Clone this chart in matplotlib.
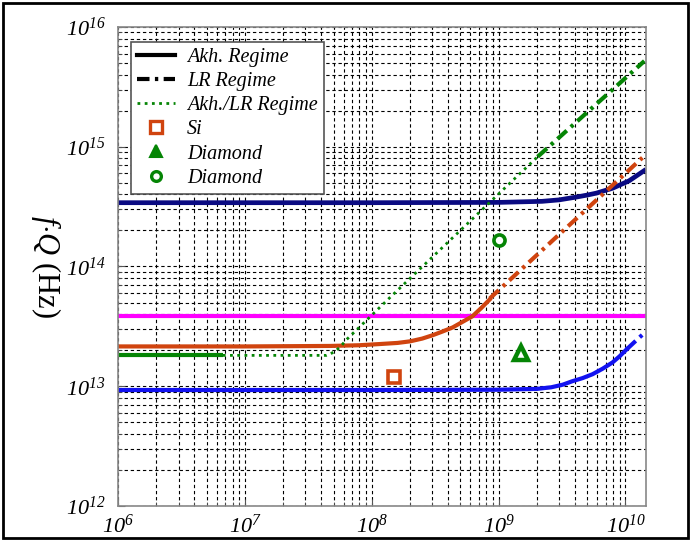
import matplotlib
matplotlib.use('Agg')
import matplotlib.pyplot as plt
from matplotlib.lines import Line2D
from matplotlib.patches import Rectangle
from matplotlib.ticker import FuncFormatter, LogLocator
import numpy as np

plt.rcParams['font.family'] = 'Liberation Serif'
plt.rcParams['mathtext.fontset'] = 'custom'
plt.rcParams['mathtext.rm'] = 'Liberation Serif:italic'
plt.rcParams['mathtext.it'] = 'Liberation Serif:italic'

# values (f in Hz, f*Q in Hz)
navy_f = [1e6, 1e7, 1e8, 1e9, 2.2e9, 3.0e9, 4.1e9, 5.0e9, 5.9e9, 7.9e9, 1.07e10, 1.4e10]
navy_fq = [3.41e14, 3.41e14, 3.41e14, 3.43e14, 3.5e14, 3.6e14, 3.8e14, 3.95e14, 4.1e14,
           4.5e14, 5.2e14, 6.3e14]

red_f = [1e6, 1e7, 4.7e7, 8e7, 1.15e8, 1.6e8, 2.0e8, 2.5e8, 3.0e8, 3.6e8, 4.35e8, 5.2e8,
         6.2e8, 7.3e8, 8.5e8]
red_fq = [2.15e13, 2.15e13, 2.17e13, 2.2e13, 2.25e13, 2.3e13, 2.37e13, 2.5e13, 2.66e13,
          2.86e13, 3.1e13, 3.45e13, 3.83e13, 4.5e13, 5.3e13]
red_lr_f = [8.5e8, 1.36e10]
red_lr_fq = [5.4e13, 8.1e14]

green_f = [1e6, 6.7e6]
green_fq = [1.81e13, 1.81e13]
green_mix_f = [6.7e6, 2e7, 4.4e7, 5.0e7, 5.6e7, 6.35e7, 1.39e8, 2.03e9]
green_mix_fq = [1.81e13, 1.81e13, 1.81e13, 1.92e13, 2.11e13, 2.46e13, 5.5e13, 8.25e14]
green_lr_f = [2.03e9, 1.41e10]
green_lr_fq = [8.25e14, 5.2e15]

blue_f = [1e6, 1e7, 1e8, 1e9, 2.0e9, 2.6e9, 3.2e9, 3.8e9, 4.6e9, 5.5e9, 6.6e9, 7.9e9,
          9.0e9, 1.02e10]
blue_fq = [9.3e12, 9.3e12, 9.3e12, 9.35e12, 9.5e12, 9.8e12, 1.03e13, 1.1e13, 1.17e13,
           1.26e13, 1.4e13, 1.58e13, 1.78e13, 2.03e13]
blue_lr_f = [1.02e10, 1.29e10, 1.43e10]
blue_lr_fq = [2.03e13, 2.56e13, 2.82e13]

magenta_f = [1e6, 1.45e10]
magenta_fq = [3.83e13, 3.83e13]

si_f, si_fq = [1.49e8], [1.19e13]
dia_tri_f, dia_tri_fq = [1.49e9], [1.88e13]
dia_circ_f, dia_circ_fq = [1.0e9], [1.65e14]

c_navy = '#0a0a82'
c_red = '#d0440f'
c_green = '#058505'
c_blue = '#1212f0'
c_mag = '#ff00ff'

dashdot = (0, (3.0, 1.3, 0.8, 1.3))
dotted = (0, (1, 1.6))

fig = plt.figure(figsize=(6.91, 5.40), dpi=100)
ax = fig.add_axes([0.1708, 0.063, 0.764, 0.887])

lw = 3.0
ax.plot(magenta_f, magenta_fq, color=c_mag, lw=lw, solid_capstyle='butt')
ax.plot(navy_f, navy_fq, color=c_navy, lw=3.4)
ax.plot(red_f, red_fq, color=c_red, lw=lw)
ax.plot(red_lr_f, red_lr_fq, color=c_red, lw=lw, linestyle=dashdot)
ax.plot(green_f, green_fq, color=c_green, lw=lw, solid_capstyle='butt')
ax.plot(green_mix_f, green_mix_fq, color=c_green, lw=2.0, linestyle=dotted)
ax.plot(green_lr_f, green_lr_fq, color=c_green, lw=lw, linestyle=dashdot)
ax.plot(blue_f, blue_fq, color=c_blue, lw=lw)
ax.plot(blue_lr_f, blue_lr_fq, color=c_blue, lw=lw, linestyle=dashdot)

ax.plot(si_f, si_fq, 's', ms=8.5, mfc='white', mec=c_red, mew=2.6)
ax.plot(dia_tri_f, dia_tri_fq, '^', ms=10, mfc='white', mec=c_green, mew=3.2)
ax.plot(dia_circ_f, dia_circ_fq, 'o', ms=8, mfc='white', mec=c_green, mew=2.6)

ax.set_xscale('log')
ax.set_yscale('log')
ax.set_xlim(1e6, 1.45e10)
ax.set_ylim(1e12, 1e16)

fmt = FuncFormatter(lambda v, p: r'$10^{%d}$' % round(np.log10(v)))
ax.xaxis.set_major_formatter(fmt)
ax.yaxis.set_major_formatter(fmt)
ax.xaxis.set_minor_locator(LogLocator(base=10, subs=np.arange(2, 10), numticks=20))
ax.yaxis.set_minor_locator(LogLocator(base=10, subs=np.arange(2, 10), numticks=20))
ax.tick_params(axis='both', which='major', direction='in', length=5, labelsize=16,
               color='#555555', pad=6)
ax.tick_params(axis='both', which='minor', direction='in', length=3, color='#555555')
ax.tick_params(axis='y', pad=9)

ax.grid(True, which='both', color='black', linestyle=(0, (3, 2.5)), lw=0.8)
ax.set_axisbelow(True)
for s in ax.spines.values():
    s.set_color('#888888')
    s.set_linewidth(1.2)

ax.set_ylabel(r'$f{\cdot}Q$ (Hz)', fontsize=22, rotation=270, labelpad=14,
              va='center')

handles = [
    Line2D([], [], color='black', lw=3, label='Akh. Regime'),
    Line2D([], [], color='black', lw=3, linestyle=dashdot, label='LR Regime'),
    Line2D([], [], color=c_green, lw=2.0, linestyle=dotted, label='Akh./LR Regime'),
    Line2D([], [], color=c_red, marker='s', ms=8, mfc='white', mew=2.4, ls='none', label='Si'),
    Line2D([], [], color=c_green, marker='^', ms=9, mfc=c_green, mew=1.5, ls='none',
           label='Diamond'),
    Line2D([], [], color=c_green, marker='o', ms=7, mfc='white', mew=2.4, ls='none',
           label='Diamond'),
]
leg = ax.legend(handles=handles, loc='upper left', prop={'style': 'italic', 'size': 14.5},
                handlelength=1.9, labelspacing=0.25, borderpad=0.3, handletextpad=0.6,
                fancybox=False, framealpha=1, edgecolor='#555555',
                bbox_to_anchor=(0.005, 0.99))
leg.get_frame().set_linewidth(1.2)

fig.patches.append(Rectangle((0.004, 0.004), 0.992, 0.99, transform=fig.transFigure,
                             fill=False, edgecolor='black', lw=2))

fig.savefig('out.png', dpi=100)
